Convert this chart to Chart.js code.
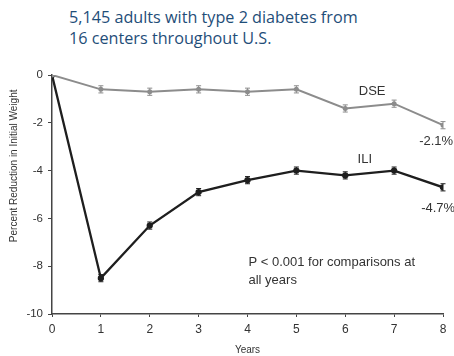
<!DOCTYPE html>
<html>
<head>
<meta charset="utf-8">
<script src="https://cdn.jsdelivr.net/npm/chart.js@4"></script>
<style>
  html, body { margin: 0; padding: 0; background: #fff; }
  #wrap { position: relative; width: 454px; height: 356px; }
  #title {
    position: absolute; left: 69px; top: 7px;
    font-family: "Open Sans", sans-serif; font-size: 16.2px; line-height: 21px;
    color: #1f4e79; white-space: nowrap;
  }
  canvas { position: absolute; left: 0; top: 0; }
</style>
</head>
<body>
<div id="wrap">
  <div id="title">5,145 adults with type 2 diabetes from<br>16 centers throughout U.S.</div>
  <canvas id="c" width="454" height="356"></canvas>
</div>
<script>
// Mean percent change from initial weight by year of follow-up
const years = [0, 1, 2, 3, 4, 5, 6, 7, 8];
const dse = [0, -0.6, -0.7, -0.6, -0.7, -0.6, -1.4, -1.2, -2.1];
const ili = [0, -8.5, -6.3, -4.9, -4.4, -4.0, -4.2, -4.0, -4.7];
const dseErr = [0, 0.15, 0.15, 0.15, 0.15, 0.15, 0.15, 0.15, 0.15];
const iliErr = [0, 0.15, 0.15, 0.15, 0.15, 0.15, 0.15, 0.15, 0.15];
const yTicks = [0, -2, -4, -6, -8, -10];

const dseColor = '#8c8c8c';
const iliColor = '#1e1e1e';
const textFont = '"Liberation Sans", Arial, sans-serif';

// Vertical standard-error whiskers with caps
const errorBars = {
  id: 'errorBars',
  afterDatasetsDraw(chart) {
    const { ctx, scales: { x, y } } = chart;
    chart.data.datasets.forEach(ds => {
      if (!ds.errors) return;
      ctx.save();
      ctx.strokeStyle = ds.borderColor;
      ctx.lineWidth = 1;
      ds.data.forEach((p, i) => {
        const e = ds.errors[i];
        if (!e) return;
        const px = x.getPixelForValue(p.x);
        const top = y.getPixelForValue(p.y + e);
        const bot = y.getPixelForValue(p.y - e);
        ctx.beginPath();
        ctx.moveTo(px, top); ctx.lineTo(px, bot);
        ctx.moveTo(px - 2.5, top); ctx.lineTo(px + 2.5, top);
        ctx.moveTo(px - 2.5, bot); ctx.lineTo(px + 2.5, bot);
        ctx.stroke();
      });
      ctx.restore();
    });
  }
};

// Text notes placed in data coordinates
const notes = [
  { text: 'DSE', x: 6.55, y: -0.7, align: 'center' },
  { text: '-2.1%', x: 7.86, y: -2.8, align: 'center' },
  { text: 'ILI', x: 6.4, y: -3.55, align: 'center' },
  { text: '-4.7%', x: 7.9, y: -5.6, align: 'center' },
  { text: 'P < 0.001 for comparisons at', x: 4.02, y: -7.85, align: 'left' },
  { text: 'all years', x: 4.02, y: -8.6, align: 'left' }
];
const noteLabels = {
  id: 'noteLabels',
  afterDraw(chart) {
    const { ctx, scales: { x, y } } = chart;
    ctx.save();
    ctx.fillStyle = '#333';
    ctx.font = '13px ' + textFont;
    ctx.textBaseline = 'middle';
    notes.forEach(n => {
      ctx.textAlign = n.align;
      ctx.fillText(n.text, x.getPixelForValue(n.x), y.getPixelForValue(n.y));
    });
    // vertical axis caption, centred a little above the middle of the axis
    ctx.font = '10px ' + textFont;
    ctx.textAlign = 'center';
    ctx.translate(14, y.getPixelForValue(-3.8));
    ctx.rotate(-Math.PI / 2);
    ctx.fillText('Percent Reduction in Initial Weight', 0, 0);
    ctx.restore();
  }
};

const toPoints = vals => years.map((yr, i) => ({ x: yr, y: vals[i] }));

new Chart(document.getElementById('c'), {
  type: 'line',
  data: {
    datasets: [
      {
        label: 'DSE', data: toPoints(dse), errors: dseErr,
        borderColor: dseColor, backgroundColor: dseColor,
        borderWidth: 2, pointRadius: 1.5, tension: 0
      },
      {
        label: 'ILI', data: toPoints(ili), errors: iliErr,
        borderColor: iliColor, backgroundColor: iliColor,
        borderWidth: 2.3, pointRadius: 2, tension: 0
      }
    ]
  },
  options: {
    responsive: false,
    animation: false,
    layout: { padding: { top: 75, right: 11, bottom: 0, left: 0 } },
    plugins: { legend: { display: false }, tooltip: { enabled: false } },
    scales: {
      x: {
        type: 'linear', min: 0, max: 8,
        afterFit: s => { s.height = 42; },
        ticks: { stepSize: 1, color: '#333', font: { size: 12, family: textFont }, padding: 5 },
        grid: { drawOnChartArea: false, drawTicks: true, tickLength: 3, color: '#444' },
        border: { color: '#444', width: 1.5 },
        title: { display: true, text: 'Years', color: '#333', font: { size: 10, family: textFont }, padding: { top: 0, bottom: 0 } }
      },
      y: {
        type: 'linear', min: -10, max: 0,
        afterFit: s => { s.width = 52; },
        afterBuildTicks: s => { s.ticks = yTicks.map(v => ({ value: v })); },
        ticks: { color: '#333', font: { size: 11.5, family: textFont }, padding: 5 },
        grid: { drawOnChartArea: false, drawTicks: true, tickLength: 4, color: '#444' },
        border: { color: '#444', width: 1.5 },
        title: { display: false }
      }
    }
  },
  plugins: [errorBars, noteLabels]
});
</script>
</body>
</html>
